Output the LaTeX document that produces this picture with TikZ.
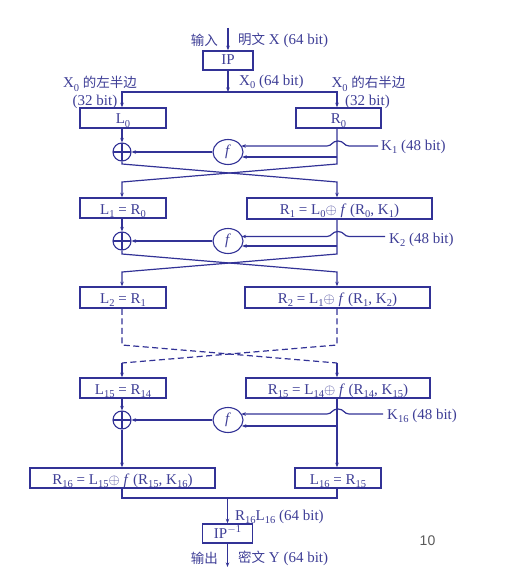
\documentclass[tikz,border=0pt]{standalone}
\usepackage{fontspec}
\setmainfont{Liberation Serif}
\newfontfamily\cjkf{Noto Sans CJK SC}
\newcommand\cjk{\cjkf\fontsize{13.5}{15}\selectfont}
\newfontfamily\lsans{Liberation Sans}
\usetikzlibrary{shapes.geometric,arrows.meta,calc}
\definecolor{dblue}{RGB}{50,50,150}
\definecolor{tblue}{RGB}{62,62,150}
\definecolor{pgray}{RGB}{90,90,90}
\newcommand\sbx[1]{\raisebox{-0.5ex}{\fontsize{10.5}{10.5}\selectfont #1}}
\newcommand\spx[1]{\raisebox{0.8ex}{\fontsize{10.5}{10.5}\selectfont #1}}
\begin{document}
\begin{tikzpicture}[x=1pt,y=-1pt,
  every node/.style={text=tblue, font=\fontsize{15}{17}\selectfont, inner sep=0pt},
  box/.style={draw=dblue, line width=1.6pt, minimum height=20pt, anchor=center, text height=16pt, text depth=4pt},
  ln/.style={draw=dblue, line width=1.2pt},
  arr/.style={ln, -{Stealth[length=4.5pt,width=3.5pt]}},
  xo/.style={circle, draw=dblue, line width=1.1pt, minimum size=18pt,
    path picture={\draw[dblue,line width=1.1pt] (path picture bounding box.north) -- (path picture bounding box.south) (path picture bounding box.west) -- (path picture bounding box.east);}},
  fn/.style={ellipse, draw=dblue, line width=1.1pt, minimum width=30pt, minimum height=25pt},
  dsh/.style={ln, dash pattern=on 6pt off 3.5pt}
]
\useasboundingbox (0,0) rectangle (523,583);
\coordinate (lc) at (122,0);
\coordinate (rc) at (337,0);

% top
\coordinate (in) at (228,28);
\node[box, minimum width=50pt, minimum height=19pt, text height=14pt, text depth=5pt] (IP) at (228,60.5) {IP};
\draw[arr] (in) -- (IP.north);
\node[anchor=east] (inL) at (218,40) {\cjk 输入};
\node[anchor=west] (inR) at (238,40) {{\cjk 明文} X (64 bit)};
\coordinate (sp) at (228,92);
\draw[arr] (IP.south) -- (sp);
\node[anchor=west] (x0) at (239,82) {X\sbx{0} (64 bit)};
\node (lh) at (100,84) {X\sbx{0} {\cjk 的左半边}};
\node (lb) at (95,102) {(32 bit)};
\node (rh) at (368.5,84) {X\sbx{0} {\cjk 的右半边}};
\node (rb) at (367.5,102) {(32 bit)};

\node[box, minimum width=86pt] (L0) at (123,118) {L\sbx{0}};
\node[box, minimum width=85pt] (R0) at (338.5,118) {R\sbx{0}};
\draw[arr] (sp) -| (L0.north -| lc);
\draw[arr] (sp) -| (R0.north -| rc);

% round 1
\node[xo] (x1) at (122,152) {};
\node[fn] (f1) at (228,152) {\textit{f}};
\draw[arr] (L0.south -| lc) -- (x1.north);
\draw[arr] (f1.west) -- (x1.east);
\node[anchor=west] (k1) at (381,147) {K\sbx{1} (48 bit)};
\coordinate (k1s) at ($(k1.west)+(-3,0)$);
\coordinate (ku1) at (349,146);
\draw[arr] (k1s |- ku1) -- (ku1) .. controls (344,146) and (344,141) .. (338,141) .. controls (332,141) and (332,146) .. (327,146) -- ($(f1)+(13.3,-6)$);
\coordinate (b1) at (337,157);
\draw[arr] (b1) -- ($(f1)+(14.2,5)$);
\node[box, minimum width=86pt] (L1) at (123,208) {L\sbx{1} = R\sbx{0}};
\node[box, minimum width=185pt, minimum height=21pt] (R1) at (339.5,208.5) {R\sbx{1} = L\sbx{0}$\oplus$ \textit{f} (R\sbx{0}, K\sbx{1})};
\coordinate (c1a) at (337,164); \coordinate (c1b) at (122,182);
\coordinate (c1c) at (122,164); \coordinate (c1d) at (337,182);
\draw[arr] (R0.south -| rc) -- (c1a) -- (c1b) -- (L1.north -| lc);
\draw[arr] (x1.south) -- (c1c) -- (c1d) -- (R1.north -| rc);

% round 2
\node[xo] (x2) at (122,241) {};
\node[fn] (f2) at (228,241) {\textit{f}};
\draw[arr] (L1.south -| lc) -- (x2.north);
\draw[arr] (f2.west) -- (x2.east);
\node[anchor=west] (k2) at (389,240) {K\sbx{2} (48 bit)};
\coordinate (k2s) at ($(k2.west)+(-4,0)$);
\coordinate (ku2) at (349,236.5);
\draw[arr] (k2s |- ku2) -- (ku2) .. controls (344,236.5) and (344,231.5) .. (338,231.5) .. controls (332,231.5) and (332,236.5) .. (327,236.5) -- ($(f2)+(13.6,-4.5)$);
\coordinate (b2) at (337,246);
\draw[arr] (b2) -- ($(f2)+(14.2,5)$);
\node[box, minimum width=86pt, minimum height=21pt] (L2) at (123,297.5) {L\sbx{2} = R\sbx{1}};
\node[box, minimum width=185pt, minimum height=21pt] (R2) at (337.5,297.5) {R\sbx{2} = L\sbx{1}$\oplus$ \textit{f} (R\sbx{1}, K\sbx{2})};
\coordinate (c2a) at (337,254); \coordinate (c2b) at (122,272);
\coordinate (c2c) at (122,254); \coordinate (c2d) at (337,272);
\draw[arr] (R1.south -| rc) -- (c2a) -- (c2b) -- (L2.north -| lc);
\draw[arr] (x2.south) -- (c2c) -- (c2d) -- (R2.north -| rc);

% dashed
\node[box, minimum width=86pt] (L15) at (123,388) {L\sbx{15} = R\sbx{14}};
\node[box, minimum width=184pt] (R15) at (338,388) {R\sbx{15} = L\sbx{14}$\oplus$ \textit{f} (R\sbx{14}, K\sbx{15})};
\coordinate (d1) at (122,345); \coordinate (d2) at (337,363);
\coordinate (d3) at (337,345); \coordinate (d4) at (122,363);
\draw[dsh] (L2.south -| lc) -- (d1) -- (d2);
\draw[dsh] (R2.south -| rc) -- (d3) -- (d4);
\draw[arr] (d2) -- (R15.north -| rc);
\draw[arr] (d4) -- (L15.north -| lc);

% round 16
\node[xo] (x16) at (122,420) {};
\node[fn] (f16) at (228,420) {\textit{f}};
\draw[arr] (L15.south -| lc) -- (x16.north);
\draw[arr] (f16.west) -- (x16.east);
\node[anchor=west] (k16) at (387,416) {K\sbx{16} (48 bit)};
\coordinate (k16s) at ($(k16.west)+(-4,0)$);
\coordinate (ku16) at (349,414);
\draw[arr] (k16s |- ku16) -- (ku16) .. controls (344,414) and (344,409) .. (338,409) .. controls (332,409) and (332,414) .. (327,414) -- ($(f16)+(13.3,-6)$);
\coordinate (b16) at (337,426);
\draw[arr] (b16) -- ($(f16)+(13.9,6)$);
\node[box, minimum width=185pt] (R16) at (122.5,478) {R\sbx{16} = L\sbx{15}$\oplus$ \textit{f} (R\sbx{15}, K\sbx{16})};
\node[box, minimum width=86pt] (L16) at (338,478) {L\sbx{16} = R\sbx{15}};
\draw[arr] (x16.south) -- (R16.north -| lc);
\draw[arr] (R15.south -| rc) -- (L16.north -| rc);

% bottom
\coordinate (mg) at (227.5,498);
\draw[ln] (R16.south -| lc) |- (mg) -| (L16.south -| rc);
\node[box, minimum width=50pt, minimum height=19pt, text height=14pt, text depth=5pt] (IPi) at (227.5,533.5) {IP\spx{$-$1}};
\draw[arr] (mg) -- (IPi.north);
\node[anchor=west] (rl) at (235,517) {R\sbx{16}L\sbx{16} (64 bit)};
\coordinate (out) at (227.5,567);
\draw[arr] (IPi.south) -- (out);
\node[anchor=east] (outL) at (218,558) {\cjk 输出};
\node[anchor=west] (outR) at (238,558) {{\cjk 密文} Y (64 bit)};
\node[text=pgray, font=\lsans\fontsize{14}{14}\selectfont] (pg) at (427.5,541) {10};
\end{tikzpicture}
\end{document}
